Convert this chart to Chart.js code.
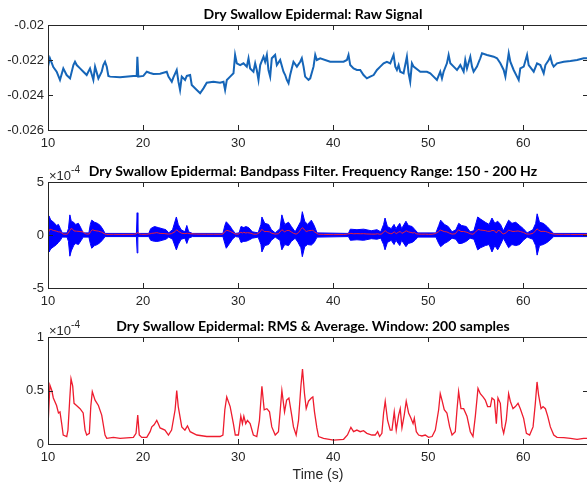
<!DOCTYPE html>
<html lang="en">
<head>
<meta charset="utf-8">
<title>Dry Swallow Epidermal</title>
<script src="https://cdn.jsdelivr.net/npm/chart.js"></script>
<style>
  html, body { margin: 0; padding: 0; background: #fff; overflow: hidden; }
  body { width: 587px; height: 482px; position: relative; }
  canvas { position: absolute; left: 0; }
</style>
</head>
<body>

<canvas id="rawChart" width="600" height="160" style="top:0px"></canvas>
<canvas id="bandChart" width="600" height="160" style="top:160px"></canvas>
<canvas id="rmsChart" width="600" height="162" style="top:320px"></canvas>

<script>
    // --- data ---
    const xTicks = [10, 20, 30, 40, 50, 60];
    const rawTicks = [-0.026, -0.024, -0.022, -0.02];
    const bandTicks = [-5, 0, 5];
    const rmsTicks = [0, 0.5, 1];

    const rawTime = [10.0,10.2,10.56,10.91,11.26,11.61,11.96,12.32,12.67,12.84,13.02,13.37,13.72,14.07,14.42,14.77,14.95,15.3,15.65,15.82,16.0,16.18,16.35,16.53,17.58,18.98,19.33,19.4,19.5,20.03,20.39,20.74,21.09,21.79,22.49,22.67,23.02,23.19,23.54,23.72,23.89,24.07,24.42,24.6,24.95,25.12,25.65,26.0,26.35,26.7,27.4,28.1,28.46,28.63,28.81,29.16,29.51,29.68,29.86,30.21,30.56,30.91,31.09,31.26,31.61,31.79,31.96,32.14,32.32,32.67,32.84,33.02,33.19,33.37,33.54,33.89,34.07,34.42,34.77,34.95,35.12,35.3,35.47,35.82,36.18,36.53,36.7,36.88,37.05,37.4,37.58,37.93,38.11,38.28,38.63,39.68,41.09,41.44,41.61,41.79,42.14,42.49,42.84,43.19,43.54,43.89,44.25,44.6,44.95,45.3,45.65,46.0,46.35,46.53,46.7,46.88,47.05,47.4,47.75,47.93,48.1,48.28,48.46,49.16,49.86,50.21,50.56,50.91,51.26,51.44,51.61,51.96,52.14,52.32,52.67,53.02,53.37,53.72,53.89,54.07,54.42,54.6,54.77,55.12,55.47,55.65,56.18,56.88,57.23,57.58,57.93,58.11,58.28,58.46,58.63,58.98,59.33,59.51,59.68,60.04,60.39,60.56,61.09,61.44,61.79,62.14,62.32,62.67,62.84,63.02,63.19,63.54,64.25,64.95,65.65,66.35,66.8];
    const rawSignal = [-0.02238,-0.0219,-0.0224,-0.02267,-0.02314,-0.02248,-0.02286,-0.02305,-0.02229,-0.0221,-0.02229,-0.02248,-0.02267,-0.02286,-0.02248,-0.02314,-0.02238,-0.02305,-0.02267,-0.02229,-0.0221,-0.02238,-0.02291,-0.02295,-0.02299,-0.02291,-0.02291,-0.02181,-0.02295,-0.02291,-0.02267,-0.02274,-0.0228,-0.02278,-0.02267,-0.02295,-0.02324,-0.02299,-0.02257,-0.02324,-0.02371,-0.02295,-0.02314,-0.02291,-0.02286,-0.02343,-0.02371,-0.0239,-0.02362,-0.0233,-0.02324,-0.0233,-0.02324,-0.02371,-0.02314,-0.02295,-0.02276,-0.02171,-0.02219,-0.02229,-0.02219,-0.02238,-0.0219,-0.02248,-0.02267,-0.02219,-0.02257,-0.02314,-0.02229,-0.02181,-0.0221,-0.02171,-0.02257,-0.02295,-0.0219,-0.02171,-0.02229,-0.022,-0.02267,-0.02286,-0.02314,-0.02333,-0.02286,-0.0221,-0.02238,-0.0221,-0.0219,-0.02238,-0.02295,-0.02314,-0.02305,-0.02238,-0.02171,-0.022,-0.0219,-0.0221,-0.0221,-0.022,-0.02171,-0.02229,-0.02248,-0.02257,-0.02257,-0.02286,-0.02305,-0.02295,-0.02286,-0.02257,-0.02238,-0.02219,-0.0221,-0.02219,-0.02171,-0.02238,-0.02257,-0.02229,-0.02267,-0.02276,-0.02181,-0.02276,-0.02324,-0.02219,-0.02238,-0.02267,-0.02267,-0.02276,-0.02295,-0.02314,-0.02267,-0.02305,-0.02267,-0.02219,-0.02171,-0.02219,-0.02238,-0.02257,-0.02229,-0.02267,-0.022,-0.02248,-0.02181,-0.02238,-0.02267,-0.02238,-0.0219,-0.02162,-0.02171,-0.02181,-0.0219,-0.02219,-0.02257,-0.02295,-0.02229,-0.02162,-0.0221,-0.02257,-0.02295,-0.02314,-0.02248,-0.02238,-0.02171,-0.02229,-0.02267,-0.02219,-0.02229,-0.02276,-0.02229,-0.022,-0.02181,-0.02219,-0.02238,-0.02219,-0.0221,-0.02206,-0.022,-0.0219,-0.0219];

    // bandpass output: upper / lower envelope of the dense trace (x 1e-4)
    const bandTime = [10.0,10.1,10.3,10.6,10.9,11.1,11.3,11.5,12.0,12.15,12.3,12.45,12.7,12.9,13.2,13.5,13.7,14.3,14.45,14.6,14.9,15.2,15.5,15.8,16.0,19.3,19.38,19.45,20.6,20.8,21.2,21.6,22.0,22.4,22.7,23.1,23.5,23.7,24.0,24.4,24.6,24.8,25.2,28.4,28.6,28.75,29.1,29.4,29.7,30.1,30.3,30.6,30.8,31.1,31.5,32.1,32.4,32.5,32.8,33.2,33.5,33.9,34.4,34.6,34.9,35.3,35.6,36.0,36.3,36.6,36.75,37.0,37.3,37.7,38.0,38.3,41.6,41.8,42.5,43.2,44.0,44.6,45.0,45.3,45.45,45.7,46.1,46.4,46.6,47.0,47.2,47.65,47.9,48.3,48.6,48.9,50.8,51.1,51.3,51.7,52.1,52.5,52.9,53.2,53.5,54.0,54.4,54.8,55.2,55.5,56.0,56.4,56.7,57.0,57.3,57.6,57.9,58.45,58.8,59.2,59.6,60.0,60.4,61.0,61.3,61.45,61.7,62.1,62.5,62.9,63.2,66.8];
    const bandHigh = [1.2,1.8,1.4,1.2,0.9,1.0,0.6,0.2,0.2,0.6,1.9,1.3,1.2,1.0,1.1,0.6,0.2,0.2,1.0,1.4,1.2,1.1,0.9,0.5,0.15,0.15,2.1,0.15,0.15,0.6,0.8,0.7,0.6,0.5,0.2,0.5,1.7,1.0,0.5,0.3,0.9,0.3,0.15,0.15,0.9,1.25,0.9,0.5,0.15,0.2,0.8,0.7,0.8,0.7,0.3,0.2,1.0,1.7,1.1,1.0,0.5,0.2,0.6,1.9,1.0,1.2,0.8,0.3,0.8,1.3,2.2,1.3,1.0,1.4,0.9,0.2,0.15,0.55,0.5,0.55,0.4,0.5,0.3,1.0,1.6,0.8,0.6,1.0,0.6,1.1,0.6,1.3,0.9,0.8,0.5,0.2,0.2,0.9,1.4,1.0,0.8,0.3,0.5,1.1,0.9,0.8,0.3,0.4,1.7,1.5,1.2,1.0,1.6,1.1,1.3,1.0,0.4,1.4,1.1,1.2,0.9,0.6,0.2,0.5,1.1,2.0,1.2,1.1,0.8,0.4,0.15,0.15];
    const bandLow = [-1.0,-1.6,-1.3,-1.1,-0.9,-0.7,-0.5,-0.2,-0.2,-0.6,-2.0,-1.5,-1.0,-0.8,-0.9,-0.5,-0.2,-0.2,-0.8,-1.25,-1.0,-0.9,-0.7,-0.4,-0.15,-0.15,-1.7,-0.15,-0.15,-0.5,-0.6,-0.6,-0.5,-0.4,-0.2,-0.4,-1.4,-0.9,-0.4,-0.3,-0.8,-0.3,-0.15,-0.15,-0.8,-1.25,-0.8,-0.4,-0.15,-0.2,-0.7,-0.6,-0.6,-0.5,-0.3,-0.2,-0.9,-1.6,-1.0,-0.9,-0.5,-0.2,-0.5,-1.4,-0.9,-1.0,-0.6,-0.3,-0.7,-1.2,-2.05,-1.1,-0.9,-0.95,-0.7,-0.2,-0.15,-0.5,-0.45,-0.5,-0.35,-0.4,-0.3,-0.9,-1.4,-0.7,-0.5,-0.9,-0.5,-1.0,-0.5,-1.1,-0.8,-0.7,-0.5,-0.2,-0.2,-0.8,-1.1,-0.8,-0.6,-0.3,-0.4,-0.8,-0.8,-0.6,-0.3,-0.4,-1.4,-1.2,-1.0,-0.9,-1.6,-1.0,-1.4,-0.9,-0.3,-1.2,-0.9,-1.0,-0.9,-0.5,-0.2,-0.4,-1.0,-1.9,-1.0,-0.9,-0.7,-0.4,-0.15,-0.15];

    // RMS, window 200 samples (x 1e-4)
    const rmsTime = [10.03,10.2,10.4,10.56,10.9,11.1,11.26,11.44,11.6,11.97,12.1,12.3,12.42,12.6,12.74,13.0,13.37,13.7,13.9,14.07,14.35,14.5,14.66,14.95,15.3,15.65,16.0,16.18,16.88,17.58,18.98,19.26,19.44,19.6,19.86,20.39,20.74,20.92,21.16,21.44,21.6,21.79,22.3,22.67,23.0,23.37,23.54,23.7,24.07,24.4,24.67,24.95,25.65,26.7,27.4,28.1,28.4,28.6,28.8,29.16,29.5,29.7,30.03,30.28,30.45,30.6,30.8,30.98,31.26,31.6,31.96,32.24,32.5,32.74,33.02,33.3,33.54,33.9,34.24,34.6,34.88,35.1,35.34,35.65,35.82,36.1,36.35,36.6,36.77,36.98,37.16,37.4,37.7,37.86,38.03,38.28,38.46,38.98,40.03,41.09,41.5,41.86,42.14,42.49,42.84,43.19,43.54,44.07,44.42,44.67,44.88,45.12,45.3,45.47,45.72,46.0,46.18,46.42,46.63,46.88,47.05,47.23,47.47,47.68,47.93,48.18,48.4,48.53,48.74,48.98,49.33,49.68,50.03,50.4,50.74,51.09,51.26,51.44,51.68,51.96,52.25,52.5,52.84,53.02,53.19,53.44,53.72,54.07,54.42,54.7,54.95,55.23,55.47,55.76,56.0,56.24,56.53,56.7,56.95,57.16,57.33,57.58,57.76,57.93,58.2,58.45,58.63,58.91,59.16,59.44,59.68,60.03,60.32,60.66,61.02,61.26,61.44,61.6,61.86,62.07,62.32,62.56,62.84,63.2,63.54,64.25,64.95,65.65,66.35,66.8];
    const rmsValue = [0.22,0.55,0.5,0.43,0.36,0.29,0.3,0.19,0.084,0.07,0.13,0.44,0.61,0.54,0.38,0.36,0.33,0.29,0.13,0.084,0.1,0.35,0.49,0.41,0.36,0.27,0.084,0.053,0.062,0.053,0.062,0.1,0.27,0.084,0.062,0.062,0.115,0.16,0.18,0.22,0.19,0.15,0.13,0.084,0.13,0.32,0.5,0.35,0.16,0.13,0.17,0.115,0.084,0.07,0.07,0.07,0.084,0.32,0.44,0.35,0.19,0.084,0.084,0.26,0.19,0.26,0.19,0.22,0.19,0.084,0.07,0.22,0.54,0.32,0.33,0.3,0.16,0.084,0.115,0.5,0.3,0.41,0.43,0.26,0.16,0.084,0.22,0.54,0.7,0.47,0.33,0.4,0.43,0.44,0.3,0.15,0.07,0.053,0.037,0.044,0.084,0.156,0.115,0.13,0.115,0.125,0.1,0.084,0.084,0.115,0.07,0.1,0.29,0.4,0.22,0.13,0.13,0.3,0.13,0.27,0.33,0.15,0.27,0.4,0.29,0.24,0.19,0.24,0.115,0.084,0.075,0.084,0.062,0.07,0.13,0.32,0.47,0.41,0.32,0.29,0.16,0.084,0.115,0.32,0.49,0.33,0.33,0.26,0.115,0.07,0.26,0.52,0.47,0.44,0.41,0.35,0.35,0.43,0.41,0.19,0.43,0.38,0.16,0.1,0.22,0.47,0.4,0.33,0.35,0.38,0.33,0.24,0.1,0.084,0.16,0.38,0.58,0.46,0.33,0.35,0.33,0.26,0.16,0.084,0.062,0.059,0.053,0.044,0.053,0.053];

    const xMin = 10, xMax = 66.8;
    const axisColor = '#262626';
    const tickFont = { family: '"Liberation Sans", Arial, sans-serif', size: 13 };

    const toPoints = (xs, ys) => xs.map((x, i) => ({ x: x, y: ys[i] }));

    // MATLAB-like box with inward ticks, bold title and exponent label
    const matlabAxes = {
        id: 'matlabAxes',
        afterDraw(chart, args, opts) {
            const { ctx, chartArea: a, scales: { x, y } } = chart;
            ctx.save();
            ctx.strokeStyle = axisColor;
            ctx.lineWidth = 1;
            ctx.strokeRect(Math.round(a.left) + 0.5, Math.round(a.top) + 0.5,
                Math.round(a.right - a.left), Math.round(a.bottom - a.top));
            ctx.beginPath();
            x.ticks.forEach(t => {
                const px = Math.round(x.getPixelForValue(t.value)) + 0.5;
                ctx.moveTo(px, a.bottom); ctx.lineTo(px, a.bottom - 5);
                ctx.moveTo(px, a.top); ctx.lineTo(px, a.top + 5);
            });
            y.ticks.forEach(t => {
                const py = Math.round(y.getPixelForValue(t.value)) + 0.5;
                ctx.moveTo(a.left, py); ctx.lineTo(a.left + 5, py);
                ctx.moveTo(a.right, py); ctx.lineTo(a.right - 5, py);
            });
            ctx.stroke();

            ctx.fillStyle = '#000';
            ctx.font = 'bold 14px Lato, sans-serif';
            ctx.textAlign = 'center';
            ctx.textBaseline = 'middle';
            ctx.fillText(opts.title, (a.left + a.right) / 2 - 5, a.top - 11);

            if (opts.exponent) {
                ctx.fillStyle = axisColor;
                ctx.textAlign = 'left';
                ctx.textBaseline = 'alphabetic';
                ctx.font = '13px "Liberation Sans", Arial, sans-serif';
                ctx.fillText('\u00d710', a.left + 1, a.top - 2);
                const w = ctx.measureText('\u00d710').width;
                ctx.font = '10px "Liberation Sans", Arial, sans-serif';
                ctx.fillText(opts.exponent, a.left + 1 + w, a.top - 9);
            }
            ctx.restore();
        }
    };

    function makeOptions(cfg) {
        return {
            responsive: false,
            animation: false,
            devicePixelRatio: 1,
            layout: { padding: { top: cfg.top, right: 12, left: 0, bottom: 0 } },
            elements: { point: { radius: 0 }, line: { tension: 0 } },
            scales: {
                x: {
                    type: 'linear',
                    min: xMin,
                    max: xMax,
                    border: { display: false },
                    grid: { display: false, drawTicks: false },
                    afterBuildTicks: s => { s.ticks = xTicks.map(v => ({ value: v })); },
                    afterFit: s => { s.height = cfg.height - cfg.bottom; },
                    ticks: { color: axisColor, font: tickFont, padding: 6, maxRotation: 0,
                             callback: v => String(v) },
                    title: cfg.xTitle ? { display: true, text: cfg.xTitle, color: axisColor,
                             font: { family: tickFont.family, size: 14, lineHeight: 1 },
                             padding: { top: 0, bottom: 0 } } : { display: false }
                },
                y: {
                    min: cfg.yTicks[0],
                    max: cfg.yTicks[cfg.yTicks.length - 1],
                    border: { display: false },
                    grid: { display: false, drawTicks: false },
                    afterBuildTicks: s => { s.ticks = cfg.yTicks.map(v => ({ value: v })); },
                    afterFit: s => { s.width = 48; },
                    ticks: { color: axisColor, font: tickFont, padding: 4,
                             callback: v => String(v) }
                }
            },
            plugins: {
                legend: { display: false },
                tooltip: { enabled: false },
                matlabAxes: { title: cfg.title, exponent: cfg.exponent }
            }
        };
    }

    new Chart(document.getElementById('rawChart'), {
        type: 'line',
        data: {
            datasets: [{
                data: toPoints(rawTime, rawSignal),
                borderColor: '#1565b8',
                borderWidth: 2
            }]
        },
        options: makeOptions({ top: 25, bottom: 130, height: 160, yTicks: rawTicks,
            title: 'Dry Swallow Epidermal: Raw Signal' }),
        plugins: [matlabAxes]
    });

    new Chart(document.getElementById('bandChart'), {
        type: 'line',
        data: {
            datasets: [
                { data: toPoints(rmsTime, rmsValue), borderColor: '#e8203a', borderWidth: 1, order: 0 },
                { data: toPoints(bandTime, bandHigh), borderColor: '#0000ff', borderWidth: 1,
                  backgroundColor: '#0000ff', fill: '+1', order: 1 },
                { data: toPoints(bandTime, bandLow), borderColor: '#0000ff', borderWidth: 1, order: 1 }
            ]
        },
        options: makeOptions({ top: 22, bottom: 128, height: 160, yTicks: bandTicks,
            title: 'Dry Swallow Epidermal: Bandpass Filter. Frequency Range: 150 - 200 Hz',
            exponent: '-4' }),
        plugins: [matlabAxes]
    });

    new Chart(document.getElementById('rmsChart'), {
        type: 'line',
        data: {
            datasets: [{
                data: toPoints(rmsTime, rmsValue),
                borderColor: '#ee1c2e',
                borderWidth: 1.3
            }]
        },
        options: makeOptions({ top: 17, bottom: 124, height: 162, yTicks: rmsTicks,
            title: 'Dry Swallow Epidermal: RMS & Average. Window: 200 samples',
            exponent: '-4', xTitle: 'Time (s)' }),
        plugins: [matlabAxes]
    });
</script>

</body>
</html>
